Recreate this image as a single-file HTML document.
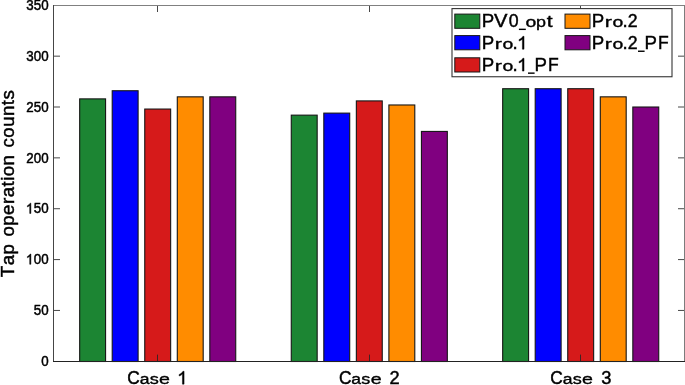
<!DOCTYPE html><html><head><meta charset="utf-8"><title>Tap operation counts</title><style>html,body{margin:0;padding:0;background:#fff;overflow:hidden}svg{display:block;will-change:transform}text{font-family:"Liberation Sans",sans-serif;fill:#000;stroke:#000;stroke-width:0.45;font-kerning:none}.k{font-kerning:normal}</style></head><body>
<svg width="685" height="385" viewBox="0 0 685 385">
<rect width="685" height="385" fill="#fff"/>
<line x1="53" x2="685" y1="5.5" y2="5.5" stroke="#808080" stroke-width="1"/>
<line x1="684.5" x2="684.5" y1="5" y2="362" stroke="#7c7c7c" stroke-width="1"/>
<line x1="53.5" x2="53.5" y1="5" y2="362" stroke="#454545" stroke-width="1"/>
<rect x="79.67" y="98.88" width="25.90" height="262.62" fill="#1c8533" stroke="#161616" stroke-width="1.1"/>
<rect x="112.21" y="90.74" width="25.90" height="270.76" fill="#0000ff" stroke="#161616" stroke-width="1.1"/>
<rect x="144.75" y="109.05" width="25.90" height="252.45" fill="#d61a1a" stroke="#161616" stroke-width="1.1"/>
<rect x="177.29" y="96.84" width="25.90" height="264.66" fill="#ff8c00" stroke="#161616" stroke-width="1.1"/>
<rect x="209.83" y="96.84" width="25.90" height="264.66" fill="#800080" stroke="#161616" stroke-width="1.1"/>
<rect x="291.27" y="115.15" width="25.90" height="246.35" fill="#1c8533" stroke="#161616" stroke-width="1.1"/>
<rect x="323.81" y="113.12" width="25.90" height="248.38" fill="#0000ff" stroke="#161616" stroke-width="1.1"/>
<rect x="356.35" y="100.91" width="25.90" height="260.59" fill="#d61a1a" stroke="#161616" stroke-width="1.1"/>
<rect x="388.89" y="104.98" width="25.90" height="256.52" fill="#ff8c00" stroke="#161616" stroke-width="1.1"/>
<rect x="421.43" y="131.43" width="25.90" height="230.07" fill="#800080" stroke="#161616" stroke-width="1.1"/>
<rect x="502.67" y="88.71" width="25.90" height="272.79" fill="#1c8533" stroke="#161616" stroke-width="1.1"/>
<rect x="535.21" y="88.71" width="25.90" height="272.79" fill="#0000ff" stroke="#161616" stroke-width="1.1"/>
<rect x="567.75" y="88.71" width="25.90" height="272.79" fill="#d61a1a" stroke="#161616" stroke-width="1.1"/>
<rect x="600.29" y="96.84" width="25.90" height="264.66" fill="#ff8c00" stroke="#161616" stroke-width="1.1"/>
<rect x="632.83" y="107.01" width="25.90" height="254.49" fill="#800080" stroke="#161616" stroke-width="1.1"/>
<line x1="53" x2="685" y1="361.5" y2="361.5" stroke="#222" stroke-width="1"/>
<g transform="translate(48.60,366.00) scale(1.0000,1.1200) translate(-7.41,0)"><text x="0.00" y="0" font-size="13.33">0</text></g>
<line x1="54.0" x2="60.0" y1="310.44" y2="310.44" stroke="#484848" stroke-width="1"/>
<line x1="684.0" x2="678.0" y1="310.44" y2="310.44" stroke="#484848" stroke-width="1"/>
<g transform="translate(48.60,315.14) scale(1.0000,1.1200) translate(-14.83,0)"><text x="0.00" y="0" font-size="13.33">50</text></g>
<line x1="54.0" x2="60.0" y1="259.59" y2="259.59" stroke="#484848" stroke-width="1"/>
<line x1="684.0" x2="678.0" y1="259.59" y2="259.59" stroke="#484848" stroke-width="1"/>
<g transform="translate(48.60,264.29) scale(1.0000,1.1200) translate(-22.24,0)"><path d="M696 0H516V1102Q451 1043 345.5 983T156 894V1061Q306 1129 418 1225T580 1409H696Z" transform="translate(0.00,0) scale(0.006509,-0.006509)" fill="#000" stroke="#000" stroke-width="69.1"/><text x="7.41" y="0" font-size="13.33">00</text></g>
<line x1="54.0" x2="60.0" y1="208.73" y2="208.73" stroke="#484848" stroke-width="1"/>
<line x1="684.0" x2="678.0" y1="208.73" y2="208.73" stroke="#484848" stroke-width="1"/>
<g transform="translate(48.60,213.43) scale(1.0000,1.1200) translate(-22.24,0)"><path d="M696 0H516V1102Q451 1043 345.5 983T156 894V1061Q306 1129 418 1225T580 1409H696Z" transform="translate(0.00,0) scale(0.006509,-0.006509)" fill="#000" stroke="#000" stroke-width="69.1"/><text x="7.41" y="0" font-size="13.33">50</text></g>
<line x1="54.0" x2="60.0" y1="157.87" y2="157.87" stroke="#484848" stroke-width="1"/>
<line x1="684.0" x2="678.0" y1="157.87" y2="157.87" stroke="#484848" stroke-width="1"/>
<g transform="translate(48.60,162.57) scale(1.0000,1.1200) translate(-22.24,0)"><text x="0.00" y="0" font-size="13.33">200</text></g>
<line x1="54.0" x2="60.0" y1="107.01" y2="107.01" stroke="#484848" stroke-width="1"/>
<line x1="684.0" x2="678.0" y1="107.01" y2="107.01" stroke="#484848" stroke-width="1"/>
<g transform="translate(48.60,111.71) scale(1.0000,1.1200) translate(-22.24,0)"><text x="0.00" y="0" font-size="13.33">250</text></g>
<line x1="54.0" x2="60.0" y1="56.16" y2="56.16" stroke="#484848" stroke-width="1"/>
<line x1="684.0" x2="678.0" y1="56.16" y2="56.16" stroke="#484848" stroke-width="1"/>
<g transform="translate(48.60,60.86) scale(1.0000,1.1200) translate(-22.24,0)"><text x="0.00" y="0" font-size="13.33">300</text></g>
<g transform="translate(48.60,10.00) scale(1.0000,1.1200) translate(-22.24,0)"><text x="0.00" y="0" font-size="13.33">350</text></g>
<line x1="157.5" x2="157.5" y1="361.0" y2="354.6" stroke="#262626" stroke-opacity="0.85" stroke-width="1"/>
<line x1="157.5" x2="157.5" y1="6.0" y2="12.0" stroke="#262626" stroke-opacity="0.85" stroke-width="1"/>
<text transform="translate(127.34,384.15) scale(0.93,1.000)" font-size="18.67">C</text><text transform="translate(139.73,384.15) scale(0.94,0.830)" font-size="18.67">a</text><text transform="translate(149.67,384.15) scale(0.97,0.830)" font-size="18.67">s</text><text transform="translate(159.04,384.15) scale(1.05,0.830)" font-size="18.67">e</text><path d="M696 0H516V1102Q451 1043 345.5 983T156 894V1061Q306 1129 418 1225T580 1409H696Z" transform="translate(177.73,384.15) scale(0.009116,-0.009116)" fill="#000" stroke="#000" stroke-width="49.4"/>
<line x1="369.5" x2="369.5" y1="361.0" y2="354.6" stroke="#262626" stroke-opacity="0.85" stroke-width="1"/>
<line x1="369.5" x2="369.5" y1="6.0" y2="12.0" stroke="#262626" stroke-opacity="0.85" stroke-width="1"/>
<text transform="translate(338.94,384.15) scale(0.93,1.000)" font-size="18.67">C</text><text transform="translate(351.33,384.15) scale(0.94,0.830)" font-size="18.67">a</text><text transform="translate(361.27,384.15) scale(0.97,0.830)" font-size="18.67">s</text><text transform="translate(370.64,384.15) scale(1.05,0.830)" font-size="18.67">e</text><text transform="translate(389.50,384.15) scale(0.98,1.000)" font-size="18.67">2</text>
<line x1="580.5" x2="580.5" y1="361.0" y2="354.6" stroke="#262626" stroke-opacity="0.85" stroke-width="1"/>
<line x1="580.5" x2="580.5" y1="6.0" y2="12.0" stroke="#262626" stroke-opacity="0.85" stroke-width="1"/>
<text transform="translate(550.34,384.15) scale(0.93,1.000)" font-size="18.67">C</text><text transform="translate(562.73,384.15) scale(0.94,0.830)" font-size="18.67">a</text><text transform="translate(572.67,384.15) scale(0.97,0.830)" font-size="18.67">s</text><text transform="translate(582.04,384.15) scale(1.05,0.830)" font-size="18.67">e</text><text transform="translate(601.13,384.15) scale(0.98,1.000)" font-size="18.67">3</text>
<text style="word-spacing:1.4px" transform="translate(14.3,183.7) rotate(-90)" font-size="18.67" text-anchor="middle" textLength="187" lengthAdjust="spacing">Tap operation counts</text>
<rect x="452" y="8.6" width="220" height="68.15" fill="#fff" stroke="#333" stroke-width="1.1"/>
<rect x="454.8" y="14.1" width="25" height="14.2" fill="#1c8533" stroke="#161616" stroke-width="1"/>
<text transform="translate(481.69,27.30) scale(1.0,1.000)" font-size="18.67">P</text><text transform="translate(493.99,27.30) scale(1.08,1.000)" font-size="18.67">V</text><text transform="translate(508.83,27.30) scale(0.95,1.000)" font-size="18.67">0</text><rect x="518.90" y="28.65" width="6.90" height="1.4" fill="#000"/><text transform="translate(525.61,27.30) scale(1.04,0.820)" font-size="18.67">o</text><text transform="translate(536.07,27.30) scale(0.96,0.820)" font-size="18.67">p</text><text transform="translate(546.81,27.30) scale(1.12,0.850)" font-size="18.67">t</text>
<rect x="454.8" y="35.6" width="25" height="14.2" fill="#0000ff" stroke="#161616" stroke-width="1"/>
<text transform="translate(481.69,49.20) scale(1.0,1.000)" font-size="18.67">P</text><text transform="translate(494.70,49.20) scale(1.15,0.820)" font-size="18.67">r</text><text transform="translate(502.46,49.20) scale(1.04,0.820)" font-size="18.67">o</text><text transform="translate(512.47,49.20) scale(1.0,1.000)" font-size="18.67">.</text><path d="M696 0H516V1102Q451 1043 345.5 983T156 894V1061Q306 1129 418 1225T580 1409H696Z" transform="translate(517.68,49.20) scale(0.009116,-0.009116)" fill="#000" stroke="#000" stroke-width="49.4"/>
<rect x="454.8" y="57.8" width="25" height="14.2" fill="#d61a1a" stroke="#161616" stroke-width="1"/>
<text transform="translate(481.69,71.10) scale(1.0,1.000)" font-size="18.67">P</text><text transform="translate(494.70,71.10) scale(1.15,0.820)" font-size="18.67">r</text><text transform="translate(502.46,71.10) scale(1.04,0.820)" font-size="18.67">o</text><text transform="translate(512.47,71.10) scale(1.0,1.000)" font-size="18.67">.</text><path d="M696 0H516V1102Q451 1043 345.5 983T156 894V1061Q306 1129 418 1225T580 1409H696Z" transform="translate(517.68,71.10) scale(0.009116,-0.009116)" fill="#000" stroke="#000" stroke-width="49.4"/><rect x="528.00" y="72.45" width="6.60" height="1.4" fill="#000"/><text transform="translate(534.39,71.10) scale(1.0,1.000)" font-size="18.67">P</text><text transform="translate(547.94,71.10) scale(0.94,1.000)" font-size="18.67">F</text>
<rect x="565.0" y="14.1" width="25" height="14.2" fill="#ff8c00" stroke="#161616" stroke-width="1"/>
<text transform="translate(591.69,27.30) scale(1.0,1.000)" font-size="18.67">P</text><text transform="translate(604.70,27.30) scale(1.15,0.820)" font-size="18.67">r</text><text transform="translate(612.46,27.30) scale(1.04,0.820)" font-size="18.67">o</text><text transform="translate(622.47,27.30) scale(1.0,1.000)" font-size="18.67">.</text><text transform="translate(627.83,27.30) scale(0.95,1.000)" font-size="18.67">2</text>
<rect x="565.0" y="35.6" width="25" height="14.2" fill="#800080" stroke="#161616" stroke-width="1"/>
<text transform="translate(591.69,49.20) scale(1.0,1.000)" font-size="18.67">P</text><text transform="translate(604.70,49.20) scale(1.15,0.820)" font-size="18.67">r</text><text transform="translate(612.46,49.20) scale(1.04,0.820)" font-size="18.67">o</text><text transform="translate(622.47,49.20) scale(1.0,1.000)" font-size="18.67">.</text><text transform="translate(627.83,49.20) scale(0.95,1.000)" font-size="18.67">2</text><rect x="638.00" y="50.55" width="6.60" height="1.4" fill="#000"/><text transform="translate(644.39,49.20) scale(1.0,1.000)" font-size="18.67">P</text><text transform="translate(657.94,49.20) scale(0.94,1.000)" font-size="18.67">F</text>
</svg></body></html>
